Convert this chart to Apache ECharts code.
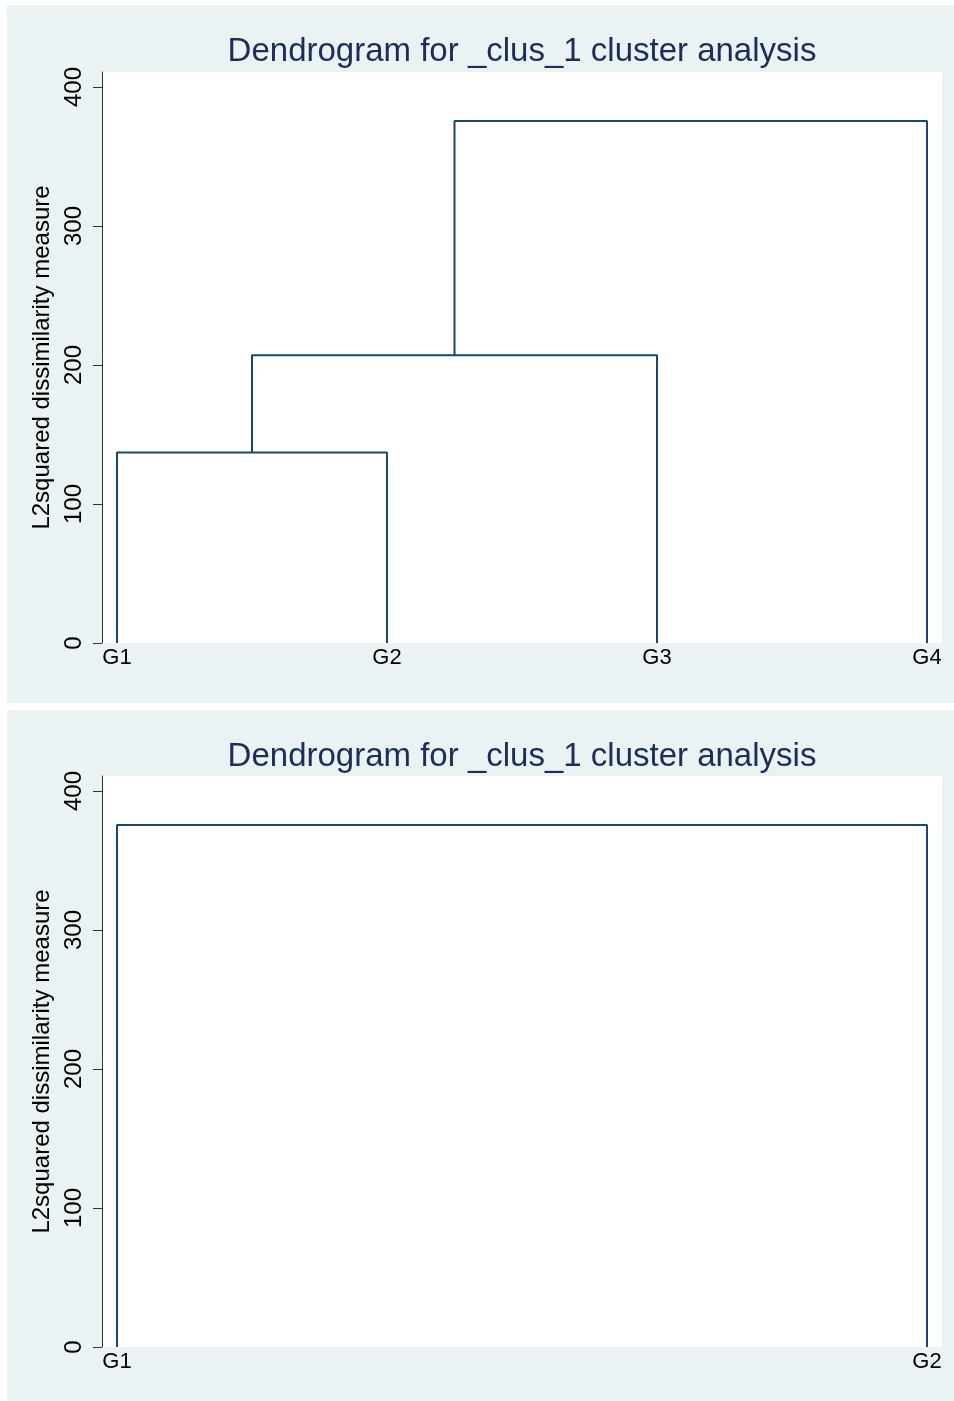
<!DOCTYPE html>
<html>
<head>
<meta charset="utf-8">
<script src="https://cdn.jsdelivr.net/npm/echarts@6/dist/echarts.min.js"></script>
<style>html,body{margin:0;padding:0;background:#fff}#c{width:954px;height:1401px}</style>
</head>
<body>
<div id="c"></div>
<script>
// ---- data ----
const titleText = 'Dendrogram for _clus_1 cluster analysis';
const yAxisName = 'L2squared dissimilarity measure';
const yTicks = [0, 100, 200, 300, 400];

// Panel 1: leaves and merges (node ids: leaves 0..n-1, merge i -> n+i)
const leaves1 = ['G1', 'G2', 'G3', 'G4'];
const mergeA1 = [0, 4, 5];
const mergeB1 = [1, 2, 3];
const heights1 = [137, 207, 375.5];

// Panel 2
const leaves2 = ['G1', 'G2'];
const mergeA2 = [0];
const mergeB2 = [1];
const heights2 = [375.5];

// ---- build dendrogram paths ----
function buildSegments(leaves, A, B, H) {
  const xs = leaves.map((_, i) => i + 1);
  const hs = leaves.map(() => 0);
  const segs = [];
  for (let i = 0; i < A.length; i++) {
    const a = A[i], b = B[i], h = H[i];
    segs.push([[xs[a], hs[a]], [xs[a], h], [xs[b], h], [xs[b], hs[b]]]);
    xs.push((xs[a] + xs[b]) / 2);
    hs.push(h);
  }
  return segs;
}

const FONT = 'Liberation Sans, Arial, sans-serif';
const LINE = '#1a476f';
const BG = '#eaf2f3';

const panels = [
  { leaves: leaves1, A: mergeA1, B: mergeB1, H: heights1, top: 72, titleTop: 31 },
  { leaves: leaves2, A: mergeA2, B: mergeB2, H: heights2, top: 776, titleTop: 736 }
];

const grids = [], xAxes = [], yAxes = [], series = [], titles = [];
panels.forEach((p, k) => {
  const n = p.leaves.length;
  const pad = 15 / (810 / (n - 1));
  grids.push({ left: 102, top: p.top, width: 840, height: 571, show: true, backgroundColor: '#ffffff', borderWidth: 0 });
  xAxes.push({
    type: 'value', gridIndex: k, min: 1 - pad, max: n + pad,
    axisLine: { show: false }, axisTick: { show: false }, splitLine: { show: false },
    axisLabel: {
      customValues: p.leaves.map((_, i) => i + 1),
      formatter: v => p.leaves[Math.round(v) - 1],
      color: '#000', fontSize: 22, fontFamily: FONT, margin: 4
    }
  });
  yAxes.push({
    type: 'value', gridIndex: k, min: 0, max: 410.8,
    name: yAxisName, nameLocation: 'middle', nameRotate: 90, nameGap: 46,
    nameTextStyle: { color: '#000', fontSize: 24, fontFamily: FONT },
    axisLine: { show: true, lineStyle: { color: '#333', width: 1 } },
    axisTick: { show: true, length: 9, customValues: yTicks, lineStyle: { color: '#333', width: 1 } },
    splitLine: { show: false },
    axisLabel: { customValues: yTicks, rotate: 90, color: '#000', fontSize: 24, fontFamily: FONT, margin: 16 }
  });
  titles.push({
    text: titleText, left: 517, top: p.titleTop - 1, textAlign: 'center',
    textStyle: { color: '#1c2d5a', fontSize: 33, fontWeight: 'normal', fontFamily: FONT }
  });
  buildSegments(p.leaves, p.A, p.B, p.H).forEach(seg => {
    series.push({
      type: 'line', xAxisIndex: k, yAxisIndex: k, data: seg,
      symbol: 'none', silent: true, animation: false,
      lineStyle: { color: LINE, width: 2 }
    });
  });
});

const chart = echarts.init(document.getElementById('c'), null, { renderer: 'canvas' });
chart.setOption({
  animation: false,
  backgroundColor: '#ffffff',
  graphic: [
    { type: 'rect', z: -10, shape: { x: 7, y: 5, width: 947, height: 698 }, style: { fill: BG } },
    { type: 'rect', z: -10, shape: { x: 7, y: 710, width: 947, height: 691 }, style: { fill: BG } }
  ],
  title: titles,
  grid: grids,
  xAxis: xAxes,
  yAxis: yAxes,
  series: series
});
</script>
</body>
</html>
